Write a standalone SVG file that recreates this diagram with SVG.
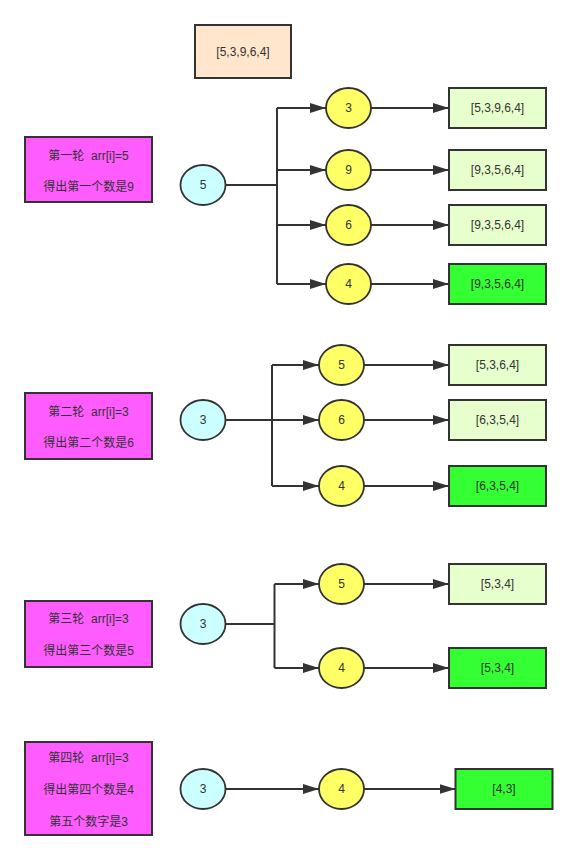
<svg xmlns="http://www.w3.org/2000/svg" width="577" height="859" viewBox="0 0 577 859">
<defs>
<marker id="arr" viewBox="0 0 16 10" refX="16" refY="5" markerWidth="16" markerHeight="10" markerUnits="userSpaceOnUse" orient="auto">
<path d="M0,0 L16,5 L0,10 Z" fill="#333"/>
</marker>
<style>
text{font-family:"Liberation Sans","Noto Sans CJK SC",sans-serif;font-size:12px;fill:#333;text-anchor:middle;dominant-baseline:central;white-space:pre}
.lbl{fill:#FF5CFF;stroke:#333;stroke-width:2}
.cy{fill:#CCFFFF;stroke:#333;stroke-width:1.8}
.ye{fill:#FFFF66;stroke:#333;stroke-width:1.8}
.lg{fill:#E6FFCC;stroke:#333;stroke-width:2}
.bg{fill:#33FF33;stroke:#333;stroke-width:2}
.pe{fill:#FFE6CC;stroke:#333;stroke-width:2}
.ln{fill:none;stroke:#333;stroke-width:2}
.ar{fill:none;stroke:#333;stroke-width:2;marker-end:url(#arr)}
</style>
</defs>
<rect width="577" height="859" fill="#fff"/>
<g id="connectors">
<path class="ln" d="M225.5,185 H277 M277,108 V284"/>
<path class="ar" d="M277,108 H326"/>
<path class="ar" d="M277,170 H326"/>
<path class="ar" d="M277,225 H326"/>
<path class="ar" d="M277,284 H326"/>
<path class="ar" d="M371,108 H449"/>
<path class="ar" d="M371,170 H449"/>
<path class="ar" d="M371,225 H449"/>
<path class="ar" d="M371,284 H449"/>
<path class="ln" d="M272,365 V486"/>
<path class="ar" d="M225.5,420 H319"/>
<path class="ar" d="M272,365 H319"/>
<path class="ar" d="M272,486 H319"/>
<path class="ar" d="M364,365 H449"/>
<path class="ar" d="M364,420 H449"/>
<path class="ar" d="M364,486 H449"/>
<path class="ln" d="M225.5,624 H274.5 M274.5,584 V668"/>
<path class="ar" d="M274.5,584 H319"/>
<path class="ar" d="M274.5,668 H319"/>
<path class="ar" d="M364,584 H449"/>
<path class="ar" d="M364,668 H449"/>
<path class="ar" d="M225.5,789 H319"/>
<path class="ar" d="M364,789 H455.5"/>
</g>
<g id="start"><rect class="pe" x="195" y="25" width="96" height="53"/><text x="243" y="52">[5,3,9,6,4]</text></g>

<g id="label1"><rect class="lbl" x="25" y="137" width="127" height="65"/><text x="88.5" y="156" xml:space="preserve">第一轮  arr[i]=5</text><text x="88.5" y="187">得出第一个数是9</text></g>
<g id="c1"><ellipse class="cy" cx="203" cy="185" rx="22.5" ry="20"/><text x="203" y="185">5</text></g>
<g id="y1a"><ellipse class="ye" cx="348.5" cy="108" rx="22.5" ry="20"/><text x="348.5" y="108">3</text></g>
<g id="y1b"><ellipse class="ye" cx="348.5" cy="170" rx="22.5" ry="20"/><text x="348.5" y="170">9</text></g>
<g id="y1c"><ellipse class="ye" cx="348.5" cy="225" rx="22.5" ry="20"/><text x="348.5" y="225">6</text></g>
<g id="y1d"><ellipse class="ye" cx="348.5" cy="284" rx="22.5" ry="20"/><text x="348.5" y="284">4</text></g>
<g id="b1a"><rect class="lg" x="449" y="88" width="97" height="40"/><text x="497.5" y="108">[5,3,9,6,4]</text></g>
<g id="b1b"><rect class="lg" x="449" y="150" width="97" height="40"/><text x="497.5" y="170">[9,3,5,6,4]</text></g>
<g id="b1c"><rect class="lg" x="449" y="205" width="97" height="40"/><text x="497.5" y="225">[9,3,5,6,4]</text></g>
<g id="b1d"><rect class="bg" x="449" y="264" width="97" height="40"/><text x="497.5" y="284">[9,3,5,6,4]</text></g>

<g id="label2"><rect class="lbl" x="25" y="393" width="127" height="66"/><text x="88.5" y="412" xml:space="preserve">第二轮  arr[i]=3</text><text x="88.5" y="443">得出第二个数是6</text></g>
<g id="c2"><ellipse class="cy" cx="203" cy="420" rx="22.5" ry="20"/><text x="203" y="420">3</text></g>
<g id="y2a"><ellipse class="ye" cx="341.5" cy="365" rx="22.5" ry="20"/><text x="341.5" y="365">5</text></g>
<g id="y2b"><ellipse class="ye" cx="341.5" cy="420" rx="22.5" ry="20"/><text x="341.5" y="420">6</text></g>
<g id="y2c"><ellipse class="ye" cx="341.5" cy="486" rx="22.5" ry="20"/><text x="341.5" y="486">4</text></g>
<g id="b2a"><rect class="lg" x="449" y="345" width="97" height="40"/><text x="497.5" y="365">[5,3,6,4]</text></g>
<g id="b2b"><rect class="lg" x="449" y="400" width="97" height="40"/><text x="497.5" y="420">[6,3,5,4]</text></g>
<g id="b2c"><rect class="bg" x="449" y="466" width="97" height="40"/><text x="497.5" y="486">[6,3,5,4]</text></g>

<g id="label3"><rect class="lbl" x="25" y="601" width="127" height="66"/><text x="88.5" y="619" xml:space="preserve">第三轮  arr[i]=3</text><text x="88.5" y="651">得出第三个数是5</text></g>
<g id="c3"><ellipse class="cy" cx="203" cy="624" rx="22.5" ry="20"/><text x="203" y="624">3</text></g>
<g id="y3a"><ellipse class="ye" cx="341.5" cy="584" rx="22.5" ry="20"/><text x="341.5" y="584">5</text></g>
<g id="y3b"><ellipse class="ye" cx="341.5" cy="668" rx="22.5" ry="20"/><text x="341.5" y="668">4</text></g>
<g id="b3a"><rect class="lg" x="449" y="564" width="97" height="40"/><text x="497.5" y="584">[5,3,4]</text></g>
<g id="b3b"><rect class="bg" x="449" y="648" width="97" height="40"/><text x="497.5" y="668">[5,3,4]</text></g>

<g id="label4"><rect class="lbl" x="25" y="742" width="127" height="93"/><text x="88.5" y="758" xml:space="preserve">第四轮  arr[i]=3</text><text x="88.5" y="790">得出第四个数是4</text><text x="88.5" y="822">第五个数字是3</text></g>
<g id="c4"><ellipse class="cy" cx="203" cy="789" rx="22.5" ry="20"/><text x="203" y="789">3</text></g>
<g id="y4"><ellipse class="ye" cx="341.5" cy="789" rx="22.5" ry="20"/><text x="341.5" y="789">4</text></g>
<g id="b4"><rect class="bg" x="455.5" y="769" width="97" height="40"/><text x="504" y="789">[4,3]</text></g>
</svg>
